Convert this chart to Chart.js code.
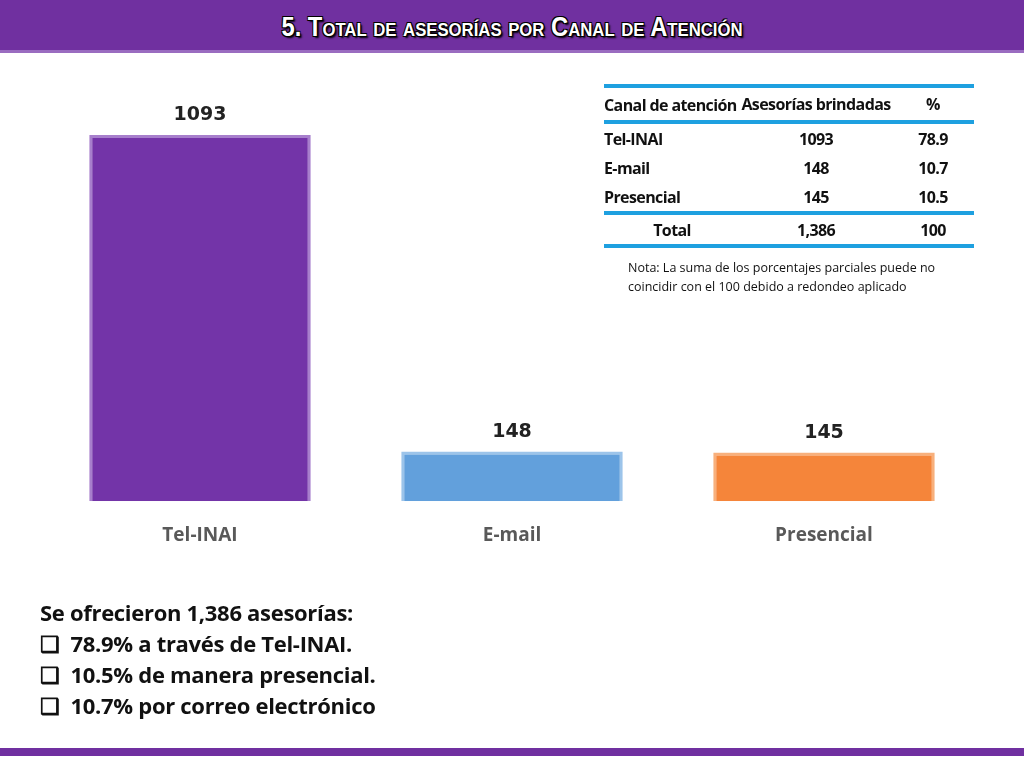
<!DOCTYPE html>
<html><head><meta charset="utf-8">
<script src="https://cdn.jsdelivr.net/npm/chart.js@4"></script>
<style>
body{margin:0;width:1024px;height:768px;position:relative;background:#fff;font-family:"Open Sans","Liberation Sans",sans-serif;overflow:hidden}
#hdr{position:absolute;left:0;top:0;width:1024px;height:50px;background:#7030a0;border-bottom:3px solid #9a6cc0}
#hdr div{text-align:center;color:#fff;font-family:"Liberation Sans",sans-serif;font-weight:bold;font-size:27px;line-height:54px;text-shadow:1px 1px 0 #000,-1px -1px 0 #000,1px -1px 0 #000,-1px 1px 0 #000,2px 2px 2px #000;font-variant:small-caps;letter-spacing:0px;transform:scaleX(0.88)}
#cv{position:absolute;left:0;top:0;width:1024px;height:768px}
table{position:absolute;left:604px;top:84px;width:370px;border-collapse:collapse;font-family:"Open Sans",sans-serif;font-weight:bold;font-size:16px;letter-spacing:-0.6px;color:#111;table-layout:fixed}
td{padding:0;height:29px}
.c{text-align:center}
.b{border-top:4px solid #1ea0e0}
#nota{position:absolute;left:628px;top:258px;font-size:12.5px;line-height:19px;color:#111}
#txt{position:absolute;left:40px;top:597px;font-size:22px;font-weight:bold;line-height:31px;color:#111;letter-spacing:-0.3px}
#bot{position:absolute;left:0;top:748px;width:1024px;height:8px;background:#7030a0}
</style></head><body>
<div id="hdr"><div>5. Total de asesorías por Canal de Atención</div></div>
<canvas id="cv" width="1024" height="768"></canvas>
<table>
<colgroup><col style="width:136px"><col style="width:152px"><col style="width:82px"></colgroup>
<tr class="b"><td style="height:30px;padding-top:2px">Canal de atención</td><td class="c">Asesorías brindadas</td><td class="c">%</td></tr>
<tr class="b"><td>Tel-INAI</td><td class="c">1093</td><td class="c">78.9</td></tr>
<tr><td>E-mail</td><td class="c">148</td><td class="c">10.7</td></tr>
<tr><td>Presencial</td><td class="c">145</td><td class="c">10.5</td></tr>
<tr class="b" style="border-bottom:4px solid #1ea0e0"><td class="c">Total</td><td class="c">1,386</td><td class="c">100</td></tr>
</table>
<div id="nota">Nota: La suma de los porcentajes parciales puede no<br>coincidir con el 100 debido a redondeo aplicado</div>
<div id="txt">Se ofrecieron 1,386 asesorías:<br>❑&nbsp;&nbsp;78.9% a través de Tel-INAI.<br>❑&nbsp;&nbsp;10.5% de manera presencial.<br>❑&nbsp;&nbsp;10.7% por correo electrónico</div>
<div id="bot"></div>
<script>
const categories=["Tel-INAI","E-mail","Presencial"];
const values=[1093,148,145];
const fills=["#7334a8","#62a0dc","#f5853a"];
const borders=["#a77fcc","#9cc4ea","#f8b07c"];
const labelPlugin={id:"vl",afterDatasetsDraw(c){const ctx=c.ctx;const m=c.getDatasetMeta(0);ctx.save();ctx.font="bold 19px 'DejaVu Sans',sans-serif";ctx.fillStyle="#222";ctx.textAlign="center";ctx.textBaseline="bottom";m.data.forEach((b,i)=>{ctx.fillText(values[i],b.x,b.y-10);});ctx.restore();}};
new Chart(document.getElementById("cv"),{type:"bar",
data:{labels:categories,datasets:[{data:values,backgroundColor:fills,borderColor:borders,borderWidth:3,barPercentage:0.71,categoryPercentage:1}]},
options:{responsive:false,animation:false,layout:{padding:{left:44,right:44,top:135,bottom:206}},
plugins:{legend:{display:false},tooltip:{enabled:false}},
scales:{y:{display:false,min:0,max:1093},x:{grid:{display:false},border:{display:false},ticks:{color:"#595959",font:{size:19,weight:"bold",family:"'Open Sans',sans-serif"},padding:15}}}},
plugins:[labelPlugin]});
</script></body></html>
